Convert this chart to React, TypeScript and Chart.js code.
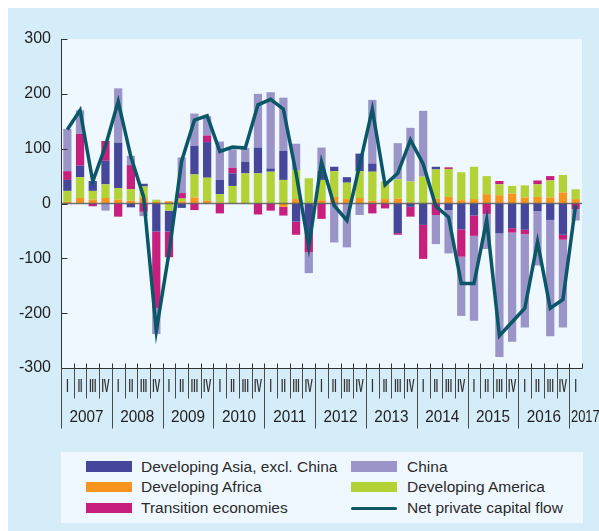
import React, { useEffect, useRef } from "react";
import { Chart, registerables } from "chart.js";

Chart.register(...registerables);

// ---- data ----
const years = ["2007", "2008", "2009", "2010", "2011", "2012", "2013", "2014", "2015", "2016", "2017"];
const quarterLabels = ["I", "II", "III", "IV"];
const categories: string[] = [];
years.forEach((y, yi) => {
  quarterLabels.forEach((q) => {
    if (yi < years.length - 1 || q === "I") categories.push(y + " " + q);
  });
});

const developingAfrica = [3, 10, 7, 10, 7, 5, 10, 3, 4, 4, 11, 5, 2, 0, 0, 1, 0, -6, 8, 0, 6, 12, 8, 10, 5, 8, 9, 2, 0, 9, 12, 6, 8, 17, 15, 18, 11, 12, 11, 20, 8];
const developingAmerica = [20, 38, 16, 25, 21, 21, 21, 4, -13, 5, 42, 42, 15, 32, 55, 54, 58, 43, 53, 46, 37, 47, 30, 49, 53, 32, 35, 38, 49, 53, 51, 51, 59, 33, 20, 14, 22, 23, 31, 32, 18];
const developingAsiaExChina = [20, 21, 18, 43, 83, -7, 5, -51, -38, -8, 52, 65, 26, 23, 21, 47, 6, 53, -33, -54, 16, 8, 10, 32, 15, 0, -54, -6, -39, 5, -12, -47, -22, 0, -54, -45, -48, -14, -30, -57, 0];
const transitionEconomies = [16, 58, -5, 36, -24, 44, -15, -140, -47, 10, -12, 12, -18, 10, 0, -20, -13, -16, -24, -35, -28, 0, 0, 0, -18, -9, -3, -18, -62, -21, 3, -50, -37, -19, 6, -8, -8, 7, 8, -9, -10];
const china = [77, 43, 0, -13, 99, 17, -8, -47, 0, 65, 59, 35, 70, 34, 25, 98, 139, 97, 48, -38, 43, -71, -80, -21, 116, 0, 66, 98, 120, -53, -79, -108, -155, -64, -226, -199, -170, -99, -212, -160, -21];
const netPrivateCapitalFlow = [135, 170, 40, 105, 186, 85, 12, -232, -90, 78, 152, 160, 95, 103, 101, 180, 190, 172, 55, -79, 76, -4, -31, 70, 172, 34, 55, 116, 72, -5, -25, -146, -146, -30, -241, -216, -191, -70, -191, -175, -3];

const yTicks = [300, 200, 100, 0, -100, -200, -300];

// ---- styles ----
const PANEL_BG = "#d5ecf9";
const PLOT_BG = "#eff8fe";
const C_ASIA = "#46479b";
const C_AFRICA = "#f7941d";
const C_TRANS = "#c61f7d";
const C_CHINA = "#9a94c8";
const C_AMERICA = "#b2d235";
const C_LINE = "#0b5667";
const FONT = '"Liberation Sans", Arial, sans-serif';
const LINE_INDEX = 5;

const axisPlugin = {
  id: "customAxes",
  beforeDraw(chart: any) {
    const { ctx, chartArea: a } = chart;
    ctx.save();
    ctx.fillStyle = PLOT_BG;
    ctx.fillRect(a.left, a.top, a.right - a.left, a.bottom - a.top);
    ctx.restore();
  },
  beforeDatasetDraw(chart: any, args: any) {
    if (args.index !== LINE_INDEX) return;
    const { ctx, chartArea: a } = chart;
    const y0 = chart.scales.y.getPixelForValue(0);
    ctx.save();
    ctx.strokeStyle = "rgba(90,90,90,0.85)";
    ctx.lineWidth = 1.6;
    ctx.beginPath();
    ctx.moveTo(a.left, y0);
    ctx.lineTo(a.right, y0);
    ctx.stroke();
    ctx.restore();
  },
  afterDraw(chart: any) {
    const { ctx, chartArea: a } = chart;
    const xs = chart.scales.x;
    const ys = chart.scales.y;
    const n = categories.length;
    const w = xs.getPixelForValue(1) - xs.getPixelForValue(0);
    const b0 = xs.getPixelForValue(0) - w / 2;
    const bx = (k: number) => Math.round(b0 + k * w) + 0.5;
    const bottom = Math.round(a.bottom) + 0.5;
    const left = Math.round(a.left) + 0.5;
    ctx.save();
    ctx.strokeStyle = "#333";
    ctx.lineWidth = 1;
    ctx.beginPath();
    ctx.moveTo(left, a.top);
    ctx.lineTo(left, bottom);
    ctx.moveTo(left, bottom);
    ctx.lineTo(bx(n), bottom);
    yTicks.forEach((v) => {
      const y = Math.round(ys.getPixelForValue(v)) + 0.5;
      ctx.moveTo(left, y);
      ctx.lineTo(left + 6, y);
    });
    for (let k = 1; k <= n; k++) {
      ctx.moveTo(bx(k), bottom - 5);
      ctx.lineTo(bx(k), bottom);
    }
    ctx.stroke();
    ctx.beginPath();
    ctx.strokeStyle = "#4a4a4a";
    for (let k = 0; k < n; k++) {
      const len = k % 4 === 0 ? 60 : 30;
      ctx.moveTo(bx(k), bottom);
      ctx.lineTo(bx(k), bottom + len);
    }
    ctx.stroke();

    // quarter labels (condensed)
    ctx.fillStyle = "#333";
    ctx.textAlign = "center";
    ctx.textBaseline = "middle";
    ctx.font = "bold 18px " + FONT;
    for (let i = 0; i < n; i++) {
      const q = quarterLabels[i % 4];
      const cx = xs.getPixelForValue(i);
      ctx.save();
      ctx.translate(cx, a.bottom + 19);
      ctx.scale(0.48, 1);
      ctx.fillText(q, 0, 0);
      ctx.restore();
    }
    // year labels
    ctx.font = "17px " + FONT;
    ctx.fillStyle = "#222";
    years.forEach((yr, j) => {
      const y = a.bottom + 49;
      ctx.save();
      if (j < years.length - 1) {
        const cx = b0 + (4 * j + 2) * w;
        ctx.textAlign = "center";
        ctx.translate(cx, y);
        ctx.scale(0.9, 1);
      } else {
        ctx.textAlign = "left";
        ctx.translate(bx(4 * j) + 1.5, y);
        ctx.scale(0.76, 1);
      }
      ctx.fillText(yr, 0, 0);
      ctx.restore();
    });
    ctx.restore();
  },
};

const legendItems = [
  { label: "Developing Asia, excl. China", color: C_ASIA, col: 0, row: 0, line: false },
  { label: "China", color: C_CHINA, col: 1, row: 0, line: false },
  { label: "Developing Africa", color: C_AFRICA, col: 0, row: 1, line: false },
  { label: "Developing America", color: C_AMERICA, col: 1, row: 1, line: false },
  { label: "Transition economies", color: C_TRANS, col: 0, row: 2, line: false },
  { label: "Net private capital flow", color: C_LINE, col: 1, row: 2, line: true },
];

export default function App() {
  const ref = useRef<HTMLCanvasElement>(null);
  useEffect(() => {
    const barBase = { type: "bar" as const, order: 1, barPercentage: 0.65, categoryPercentage: 1, borderWidth: 0 };
    const chart = new Chart(ref.current as HTMLCanvasElement, {
      type: "bar",
      data: {
        labels: categories,
        datasets: [
          { ...barBase, label: "Developing Africa", data: developingAfrica, backgroundColor: C_AFRICA },
          { ...barBase, label: "Developing America", data: developingAmerica, backgroundColor: C_AMERICA },
          { ...barBase, label: "Developing Asia, excl. China", data: developingAsiaExChina, backgroundColor: C_ASIA },
          { ...barBase, label: "Transition economies", data: transitionEconomies, backgroundColor: C_TRANS },
          { ...barBase, label: "China", data: china, backgroundColor: C_CHINA },
          {
            type: "line" as const,
            order: 0,
            label: "Net private capital flow",
            data: netPrivateCapitalFlow,
            borderColor: C_LINE,
            backgroundColor: C_LINE,
            borderWidth: 3.5,
            pointRadius: 0,
            tension: 0,
            fill: false,
          } as any,
        ],
      },
      options: {
        animation: false,
        responsive: false,
        layout: { padding: { top: 31, right: 17, bottom: 84, left: 0 } },
        plugins: { legend: { display: false }, tooltip: { enabled: false } },
        scales: {
          x: { display: false, stacked: true, offset: true },
          y: {
            stacked: true,
            min: -300,
            max: 300,
            grid: { display: false, drawTicks: false },
            border: { display: false },
            afterFit: (s: any) => {
              s.width = 53;
            },
            ticks: {
              stepSize: 100,
              padding: 10,
              color: "#222",
              font: { family: FONT, size: 16 },
            },
          },
        },
      },
      plugins: [axisPlugin],
    } as any);
    return () => chart.destroy();
  }, []);

  return (
    <div
      style={{
        position: "fixed",
        left: 8,
        top: 8,
        width: 591,
        height: 523,
        background: PANEL_BG,
        overflow: "hidden",
        fontFamily: FONT,
      }}
    >
      <canvas ref={ref} width={591} height={444} style={{ position: "absolute", left: 0, top: 0, width: 591, height: 444 }} />
      <div style={{ position: "absolute", left: 53, top: 444, width: 522, height: 71, background: PLOT_BG }}>
        {legendItems.map((it) => {
          const cy = 14.5 + it.row * 20.8;
          const sx = it.col === 0 ? 25 : 290;
          const tx = it.col === 0 ? 80 : 346;
          return (
            <React.Fragment key={it.label}>
              {it.line ? (
                <div
                  style={{
                    position: "absolute",
                    left: sx,
                    top: cy - 1.5,
                    width: 46,
                    height: 3,
                    borderRadius: 2,
                    background: it.color,
                  }}
                />
              ) : (
                <div style={{ position: "absolute", left: sx, top: cy - 5.2, width: 46, height: 10.4, background: it.color }} />
              )}
              <div
                style={{
                  position: "absolute",
                  left: tx,
                  top: cy - 10,
                  height: 20,
                  lineHeight: "20px",
                  fontSize: 15.5,
                  color: "#2b2b2b",
                  whiteSpace: "nowrap",
                }}
              >
                {it.label}
              </div>
            </React.Fragment>
          );
        })}
      </div>
    </div>
  );
}
